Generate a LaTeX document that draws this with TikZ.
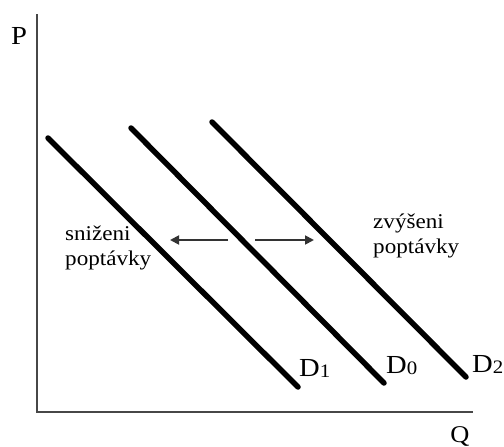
\documentclass[tikz,border=0pt]{standalone}
\usepackage{fontspec}
\setmainfont[FakeStretch=1.1]{Liberation Serif}
\usetikzlibrary{arrows.meta}

\newcommand{\dsub}[1]{D{\fontsize{19}{19}\selectfont\raisebox{-1pt}{#1}}}

\begin{document}
\begin{tikzpicture}[
    x=1pt, y=-1pt,
    axis/.style={draw=black!72, line width=2pt},
    demand/.style={draw=black, line width=5.5pt, line cap=round},
    shiftarrow/.style={-{Triangle[length=9pt, width=9pt]}, draw=black!80, line width=1.8pt},
    lbl/.style={inner sep=0pt, font=\fontsize{26}{26}\selectfont},
    note/.style={inner sep=0pt, align=left, font=\fontsize{21}{25}\selectfont}
]
\useasboundingbox (0,0) rectangle (504,447);

% axes
\coordinate (top) at (37,14);
\coordinate (origin) at (37,412);
\coordinate (right) at (473,412);
\draw[axis] (top) -- (origin) -- (right);
\node[lbl, anchor=base] (p) at (19,45) {P};
\node[lbl, anchor=base, font=\fontsize{24}{24}\selectfont] (q) at (460,442) {Q};

% demand curves
\coordinate (d1a) at (48,138);
\coordinate (d1b) at (298,387);
\coordinate (d0a) at (131,128);
\coordinate (d0b) at (384,383);
\coordinate (d2a) at (212,122);
\coordinate (d2b) at (466,377);
\foreach \a/\b in {d1a/d1b, d0a/d0b, d2a/d2b}
  \draw[demand] (\a) -- (\b);

\node[lbl, anchor=base west] (dlab1) at (299,376) {\dsub{1}};
\node[lbl, anchor=base west] (dlab0) at (386,373) {\dsub{0}};
\node[lbl, anchor=base west] (dlab2) at (472,372) {\dsub{2}};

% shifts
\coordinate (ls) at (228,240);
\coordinate (le) at (170,240);
\coordinate (rs) at (255,240);
\coordinate (re) at (314,240);
\draw[shiftarrow] (ls) -- (le);
\draw[shiftarrow] (rs) -- (re);

\node[note, anchor=base west] (down) at (65,265) {sniženi\\poptávky};
\node[note, anchor=base west] (up) at (373,253) {zvýšeni\\poptávky};
\end{tikzpicture}
\end{document}
